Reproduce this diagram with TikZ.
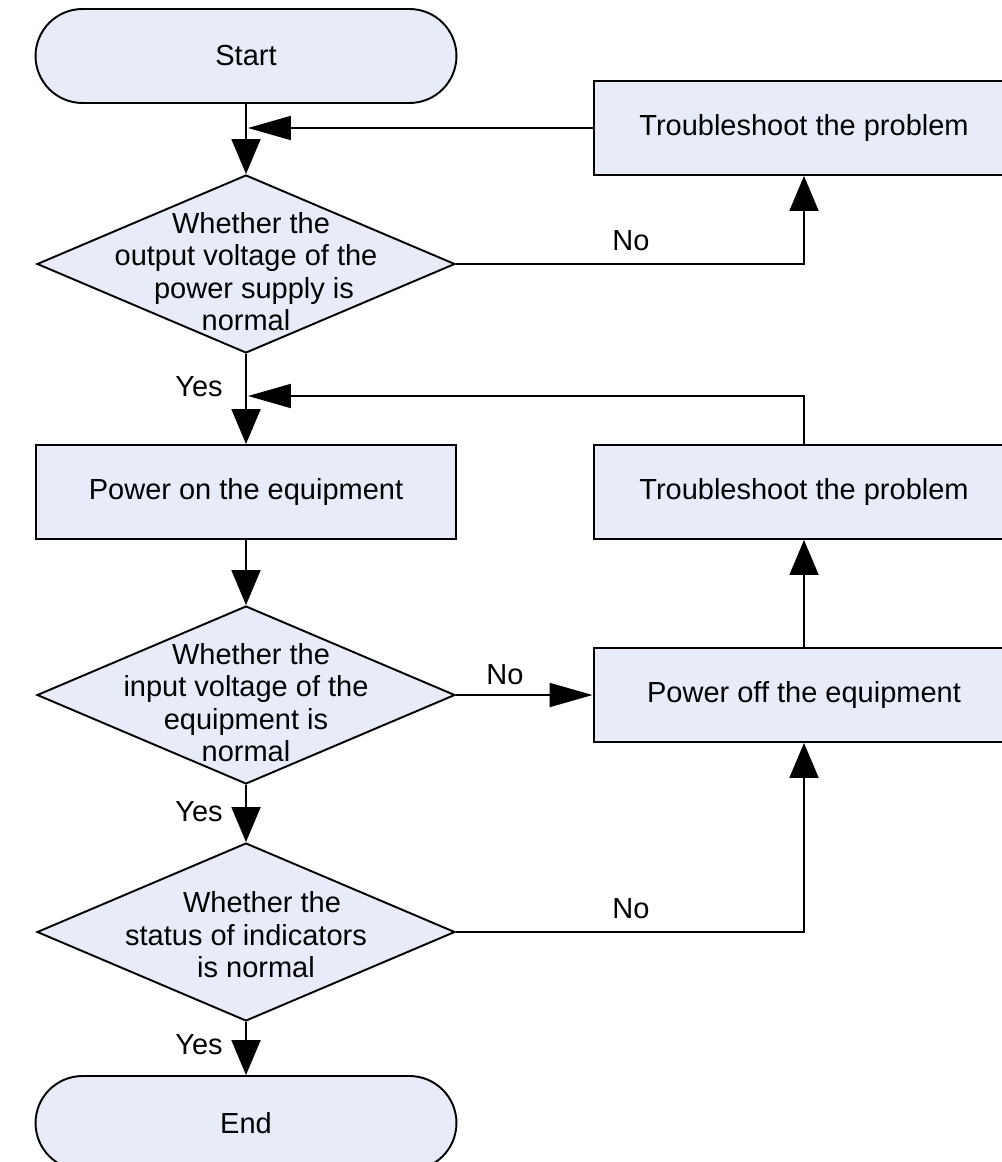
\documentclass[tikz,border=0pt]{standalone}
\usepackage{fontspec}
\setmainfont{Liberation Sans}
\usepackage{tikz}
\usetikzlibrary{arrows.meta}
\usetikzlibrary{shapes.geometric}
\usetikzlibrary{positioning}
\definecolor{flowfill}{RGB}{232,236,248}
\begin{document}
\begin{tikzpicture}
  [
    x=0.02cm,
    y=-0.02cm,
    line width=1.1pt,
    txt/.style={
      font=\fontsize{16.5}{18.5}\selectfont
    },
    terminal/.style={
      txt,
      draw,
      fill=flowfill,
      rectangle,
      rounded corners=0.94cm,
      minimum width=8.42cm,
      minimum height=1.88cm
    },
    process/.style={
      txt,
      draw,
      fill=flowfill,
      rectangle,
      minimum width=8.42cm,
      minimum height=1.88cm
    },
    decision/.style={
      draw,
      fill=flowfill,
      diamond,
      inner sep=0pt,
      minimum width=8.36cm,
      minimum height=3.56cm
    },
    vflow/.style={
      -{Triangle[length=0.7cm,width=0.58cm]}
    },
    hflow/.style={
      -{Triangle[length=0.86cm,width=0.48cm]}
    }
  ]
  \useasboundingbox (0,0) rectangle (1001,1162);
  % main column
  \node [terminal] (start) at (246,56) {Start};
  \node [decision,label={[txt,align=center,yshift=-0.15cm]center:{\hspace*{0.2cm}Whether the\\output voltage of the\\\hspace*{0.32cm}power supply is\\normal}}] (d1) at (246,264) {};
  \node [process] (pon) at (246,492) {Power on the equipment};
  \node [decision,label={[txt,align=center,yshift=-0.15cm]center:{\hspace*{0.2cm}Whether the\\input voltage of the\hspace*{0.32cm}\\equipment is\\normal}}] (d2) at (246,695) {};
  \node [decision,label={[txt,align=center,yshift=-0.06cm]center:{\hspace*{0.64cm}Whether the\\status of indicators\\\hspace*{0.4cm}is normal}}] (d3) at (246,932) {};
  \node [terminal] (end) at (246,1123) {End};
  % right column
  \node [process] (tr1) at (804,128) {Troubleshoot the problem};
  \node [process] (tr2) at (804,492) {Troubleshoot the problem};
  \node [process] (poff) at (804,695) {Power off the equipment};
  \coordinate (j2) at (248,396);
  % connectors
  \draw [vflow] (start) -- (d1);
  \draw [vflow] (d1) -- (pon);
  \draw [vflow] (pon) -- (d2);
  \draw [vflow] (d2) -- (d3);
  \draw [vflow] (d3) -- (end);
  \draw [vflow] (d1.east) -| (tr1.south);
  \draw [hflow] (tr1.west) -- (tr1.west -| j2);
  \draw [hflow] (tr2.north) |- (j2);
  \draw [hflow] (d2.east) -- (poff.west);
  \draw [vflow] (poff) -- (tr2);
  \draw [vflow] (d3.east) -| (poff.south);
    % labels
    \node [txt] (no1) at (631,241) {No};
    \node [txt] (yes1) at (199,387) {Yes};
    \node [txt] (no2) at (505,675) {No};
    \node [txt] (yes2) at (199,812) {Yes};
    \node [txt] (no3) at (631,909) {No};
    \node [txt] (yes3) at (199,1045) {Yes};
  \end{tikzpicture}
\end{document}
